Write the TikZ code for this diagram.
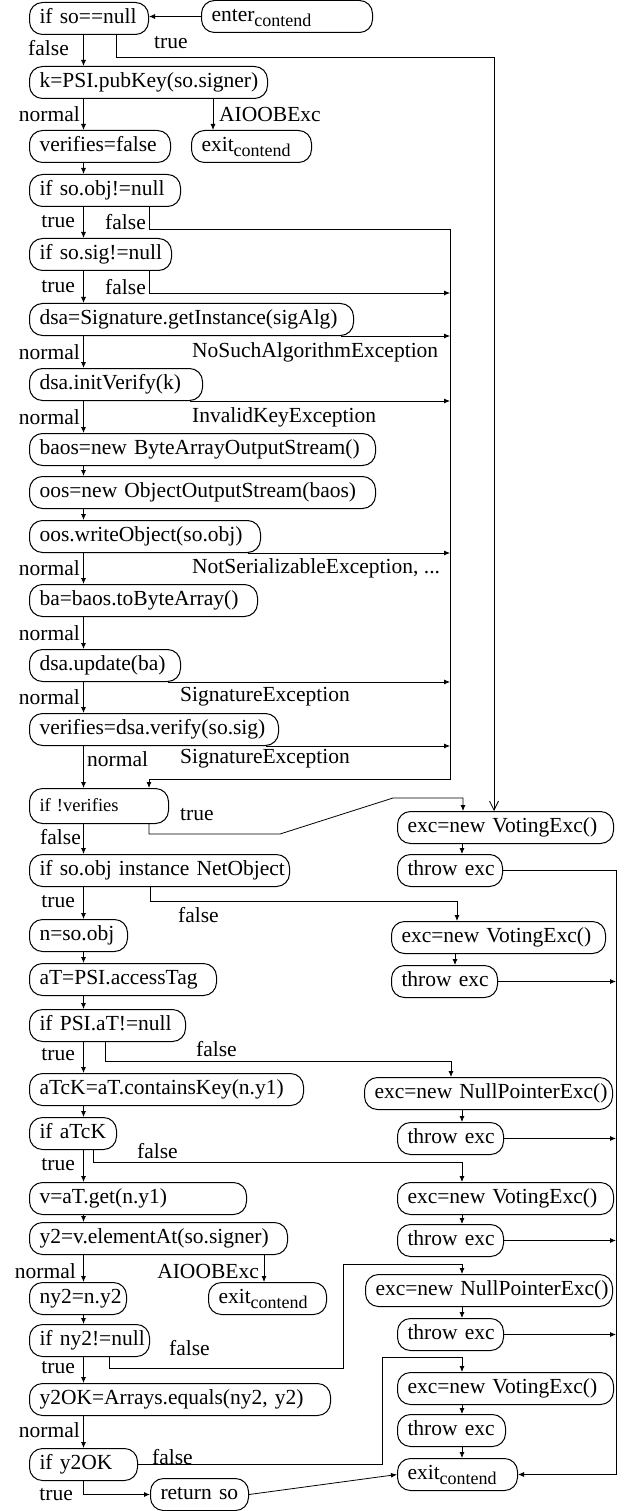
\documentclass[tikz,border=0pt]{standalone}
\usepackage{fontspec}
\setmainfont{Liberation Serif}
\usetikzlibrary{arrows.meta}
\newcommand{\lowsub}[1]{\raisebox{-5pt}{\fontsize{18}{18}\selectfont #1}}

\begin{document}
\begin{tikzpicture}[x=1pt,y=-1pt]
	\tikzstyle{every node}=[font=\fontsize{21.5}{24}\selectfont, inner sep=0pt];
	\tikzset{blk/.style={draw, line width=1pt, rounded corners=13pt, anchor=north west, minimum height=32pt, inner xsep=10pt, inner ysep=0pt, text height=15pt, text depth=5pt, text width=#1pt, align=left, execute at begin node={\leavevmode\hbox\bgroup}, execute at end node={\egroup}}};
	\tikzstyle{arr}=[line width=0.8pt, -{Latex[length=6pt,width=5pt]}];
	\tikzstyle{bigarr}=[line width=0.8pt, -{Straight Barb[length=9pt,width=9pt]}];
	\useasboundingbox (0,0) rectangle (633,1511);

	% left column
	\node[blk=99] (ifnull) at (29,2) {if so==null};
	\node[blk=151] (enter) at (201,0) {enter\lowsub{contend}};
	\node[blk=218] (pubkey) at (29,66) {k=PSI.pubKey(so.signer)};
	\node[blk=121] (vfalse) at (29,130) {verifies=false};
	\node[blk=100] (exitA) at (191,130) {exit\lowsub{contend}};
	\node[blk=131] (ifobj) at (29,174) {if so.obj!=null};
	\node[blk=122] (ifsig) at (29,238) {if so.sig!=null};
	\node[blk=304] (getinst) at (29,303) {dsa=Signature.getInstance(sigAlg)};
	\node[blk=153] (initv) at (29,368) {dsa.initVerify(k)};
	\node[blk=326] (baos) at (29,433) {baos=new ByteArrayOutputStream()};
	\node[blk=326] (oos) at (29,476) {oos=new ObjectOutputStream(baos)};
	\node[blk=211] (wobj) at (29,520) {oos.writeObject(so.obj)};
	\node[blk=208] (toba) at (29,584) {ba=baos.toByteArray()};
	\node[blk=131] (upd) at (29,649) {dsa.update(ba)};
	\node[blk=229] (verify) at (29,713) {verifies=dsa.verify(so.sig)};
	\node[blk=119, font=\fontsize{18.5}{20}\selectfont, minimum height=35pt] (ifver) at (29,788) {if !verifies};
	\node[blk=240] (ifinst) at (29,854) {if so.obj instance NetObject};
	\node[blk=78] (nobj) at (29,919) {n=so.obj};
	\node[blk=167] (acctag) at (29,963) {aT=PSI.accessTag};
	\node[blk=136] (ifat) at (29,1009) {if PSI.aT!=null};
	\node[blk=254] (ack) at (29,1073) {aTcK=aT.containsKey(n.y1)};
	\node[blk=67] (ifack) at (29,1117) {if aTcK};
	\node[blk=197] (vget) at (29,1182) {v=aT.get(n.y1)};
	\node[blk=238] (elat) at (29,1222) {y2=v.elementAt(so.signer)};
	\node[blk=77] (ny) at (29,1282) {ny2=n.y2};
	\node[blk=98] (exitB) at (208,1282) {exit\lowsub{contend}};
	\node[blk=100] (ifny) at (29,1324) {if ny2!=null};
	\node[blk=281] (y2ok) at (29,1383) {y2OK=Arrays.equals(ny2, y2)};
	\node[blk=88] (ifok) at (29,1448) {if y2OK};
	\node[blk=78] (ret) at (150,1478) {return so};

	% right column
	\node[blk=196] (vexA) at (397,811) {exc=new VotingExc()};
	\node[blk=85] (throwA) at (397,854) {throw exc};
	\node[blk=194] (vexB) at (391,921) {exc=new VotingExc()};
	\node[blk=86] (throwB) at (391,965) {throw exc};
	\node[blk=228] (npeA) at (364,1077) {exc=new NullPointerExc()};
	\node[blk=86] (throwC) at (397,1122) {throw exc};
	\node[blk=196] (vexC) at (397,1182) {exc=new VotingExc()};
	\node[blk=86] (throwD) at (397,1224) {throw exc};
	\node[blk=227] (npeB) at (365,1274) {exc=new NullPointerExc()};
	\node[blk=86] (throwE) at (397,1318) {throw exc};
	\node[blk=196] (vexD) at (397,1372) {exc=new VotingExc()};
	\node[blk=88] (throwF) at (397,1414) {throw exc};
	\node[blk=100] (exitC) at (397,1458) {exit\lowsub{contend}};

	\coordinate (col) at (83.5,0);
	\coordinate (busM) at (450,779);
	\coordinate (busR) at (616,0);
	\coordinate (rcol) at (462,0);

	% normal flow
	\draw[arr] (enter.west) -- (enter.west -| ifnull.east);
	\draw[arr] (ifnull.south -| col) -- (pubkey.north -| col);
	\draw[arr] (pubkey.south -| col) -- (vfalse.north -| col);
	\draw[arr] (vfalse.south -| col) -- (ifobj.north -| col);
	\draw[arr] (ifobj.south -| col) -- (ifsig.north -| col);
	\draw[arr] (ifsig.south -| col) -- (getinst.north -| col);
	\draw[arr] (getinst.south -| col) -- (initv.north -| col);
	\draw[arr] (initv.south -| col) -- (baos.north -| col);
	\draw[arr] (baos.south -| col) -- (oos.north -| col);
	\draw[arr] (oos.south -| col) -- (wobj.north -| col);
	\draw[arr] (wobj.south -| col) -- (toba.north -| col);
	\draw[arr] (toba.south -| col) -- (upd.north -| col);
	\draw[arr] (upd.south -| col) -- (verify.north -| col);
	\draw[arr] (verify.south -| col) -- (ifver.north -| col);
	\draw[arr] (ifver.south -| col) -- (ifinst.north -| col);
	\draw[arr] (ifinst.south -| col) -- (nobj.north -| col);
	\draw[arr] (nobj.south -| col) -- (acctag.north -| col);
	\draw[arr] (acctag.south -| col) -- (ifat.north -| col);
	\draw[arr] (ifat.south -| col) -- (ack.north -| col);
	\draw[arr] (ack.south -| col) -- (ifack.north -| col);
	\draw[arr] (ifack.south -| col) -- (vget.north -| col);
	\draw[arr] (vget.south -| col) -- (elat.north -| col);
	\draw[arr] (elat.south -| col) -- (ny.north -| col);
	\draw[arr] (ny.south -| col) -- (ifny.north -| col);
	\draw[arr] (ifny.south -| col) -- (y2ok.north -| col);
	\draw[arr] (y2ok.south -| col) -- (ifok.north -| col);
	\draw[arr] (ifok.south -| col) |- (ret.west);
	\draw[arr] (ret.east) -- (exitC.west);

	% exceptions and false branches into the middle bus
	\draw[arr] ([xshift=120pt]ifobj.south west) -- ++(0,22) -| (busM) -| ([xshift=120pt]ifver.north west);
	\draw[arr] ([xshift=120pt]ifsig.south west) -- ++(0,22) -- ++(301,0);
	\draw[arr] ([xshift=-13pt]getinst.south east) -- (getinst.south -| busM);
	\draw[arr] ([xshift=-13pt]initv.south east) -- (initv.south -| busM);
	\draw[arr] ([xshift=-13pt]wobj.south east) -- (wobj.south -| busM);
	\draw[arr] ([xshift=-13pt]upd.south east) -- (upd.south -| busM);
	\draw[arr] ([xshift=-13pt]verify.south east) -- (verify.south -| busM);

	% AIOOBExc
	\draw[arr] ([xshift=184pt]pubkey.south west) -- ([xshift=22pt]exitA.north west);
	\draw[arr] ([xshift=235pt]elat.south west) -- ([xshift=56pt]exitB.north west);

	% branches to the right column
	\draw[bigarr] ([xshift=87pt]ifnull.south west) -- ++(0,22) -| ([xshift=97pt]vexA.north west);
	\draw[arr] ([xshift=120pt]ifver.south west) -- ++(0,10) -- ++(131,0) -- ++(113,-36) -| ([xshift=66pt]vexA.north west);
	\draw[arr] ([xshift=121pt]ifinst.south west) -- ++(0,14) -| ([xshift=66pt]vexB.north west);
	\draw[arr] ([xshift=76pt]ifat.south west) -- ++(0,19) -| ([xshift=87pt]npeA.north west);
	\draw[arr] ([xshift=64pt]ifack.south west) -- ++(0,12) -| (vexC.north -| rcol);
	\draw[arr] ([xshift=80pt]ifny.south west) -- ++(0,11) -- ++(234,0) -- ++(0,-104) -| (npeB.north -| rcol);
	\draw[arr] (ifok.east) -- ++(244,0) -- ++(0,-107) -| (vexD.north -| rcol);

	% right column flow
	\draw[arr] (vexA.south -| rcol) -- (throwA.north -| rcol);
	\draw[arr] ([xshift=64pt]vexB.south west) -- ([xshift=64pt]throwB.north west);
	\draw[arr] (npeA.south -| rcol) -- (throwC.north -| rcol);
	\draw[arr] (vexC.south -| rcol) -- (throwD.north -| rcol);
	\draw[arr] (npeB.south -| rcol) -- (throwE.north -| rcol);
	\draw[arr] (vexD.south -| rcol) -- (throwF.north -| rcol);
	\draw[arr] (throwF.south -| rcol) -- (exitC.north -| rcol);
	\draw[arr] (throwA.east) -- (throwA.east -| busR) -- (exitC.east -| busR) -- (exitC.east);
	\draw[arr] (throwB.east) -- (throwB.east -| busR);
	\draw[arr] (throwC.east) -- (throwC.east -| busR);
	\draw[arr] (throwD.east) -- (throwD.east -| busR);
	\draw[arr] (throwE.east) -- (throwE.east -| busR);

	% labels
	\node[anchor=east] (fl1) at (69,48) {false};
	\node[anchor=west] (tr1) at (154,43) {true};
	\node[anchor=east] (nm1) at (80,114) {normal};
	\node[anchor=west] (ex1) at (219,114) {AIOOBExc};
	\node[anchor=east] (tr2) at (75,222) {true};
	\node[anchor=east] (fl2) at (146,222) {false};
	\node[anchor=east] (tr3) at (75,287) {true};
	\node[anchor=east] (fl3) at (146,287) {false};
	\node[anchor=east] (nm2) at (80,352) {normal};
	\node[anchor=west] (ex2) at (192,352) {NoSuchAlgorithmException};
	\node[anchor=east] (nm3) at (80,417) {normal};
	\node[anchor=west] (ex3) at (192,417) {InvalidKeyException};
	\node[anchor=east] (nm4) at (80,568) {normal};
	\node[anchor=west] (ex4) at (192,568) {NotSerializableException, ...};
	\node[anchor=east] (nm5) at (80,633) {normal};
	\node[anchor=east] (nm6) at (80,697) {normal};
	\node[anchor=west] (ex5) at (180,697) {SignatureException};
	\node[anchor=west] (nm7) at (87,759) {normal};
	\node[anchor=west] (ex6) at (180,759) {SignatureException};
	\node[anchor=west] (tr4) at (180,815) {true};
	\node[anchor=east] (fl4) at (81,837) {false};
	\node[anchor=east] (tr5) at (75,902) {true};
	\node[anchor=west] (fl5) at (178,915) {false};
	\node[anchor=east] (tr6) at (75,1055) {true};
	\node[anchor=west] (fl6) at (196,1049) {false};
	\node[anchor=west] (fl7) at (137,1151) {false};
	\node[anchor=east] (tr7) at (75,1165) {true};
	\node[anchor=east] (nm8) at (76,1271) {normal};
	\node[anchor=east] (ex7) at (259,1271) {AIOOBExc};
	\node[anchor=west] (fl8) at (169,1348) {false};
	\node[anchor=east] (tr8) at (75,1368) {true};
	\node[anchor=east] (nm9) at (80,1430) {normal};
	\node[anchor=west] (fl9) at (152,1457) {false};
	\node[anchor=east] (tr9) at (73,1495) {true};
\end{tikzpicture}
\end{document}
